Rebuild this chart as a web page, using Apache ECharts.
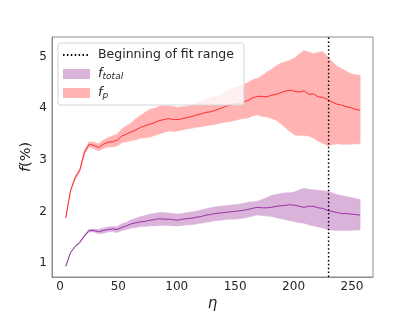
<!DOCTYPE html>
<html>
<head>
<meta charset="utf-8">
<script src="https://cdn.jsdelivr.net/npm/echarts@6/dist/echarts.min.js"></script>
<style>html,body{margin:0;padding:0;background:#fff}#c{width:415px;height:312px}</style>
</head>
<body>
<div id="c"></div>
<script>
const eta = [5,9,13,17,21,25,29,33,37,41,45,49,53,57,61,65,69,73,77,81,85,89,93,97,101,105,109,113,117,121,125,129,133,137,141,145,149,153,157,161,165,169,173,177,181,185,189,193,197,201,205,209,213,217,221,225,229,233,237,241,245,249,253,257];
const fpMid = [1.88,2.40,2.65,2.80,3.15,3.30,3.28,3.24,3.30,3.34,3.35,3.38,3.46,3.50,3.54,3.58,3.63,3.66,3.69,3.72,3.76,3.78,3.80,3.78,3.78,3.80,3.82,3.84,3.87,3.89,3.92,3.93,3.96,3.99,4.03,4.06,4.08,4.09,4.12,4.15,4.20,4.23,4.23,4.22,4.25,4.27,4.30,4.33,4.35,4.33,4.31,4.34,4.27,4.28,4.22,4.21,4.17,4.12,4.08,4.06,4.03,4.01,3.98,3.96];
const fpLo = [1.87,2.38,2.62,2.77,3.11,3.25,3.22,3.17,3.22,3.25,3.25,3.27,3.33,3.35,3.37,3.39,3.42,3.43,3.44,3.47,3.50,3.53,3.56,3.55,3.56,3.58,3.60,3.61,3.63,3.64,3.66,3.67,3.69,3.71,3.73,3.74,3.76,3.78,3.80,3.81,3.85,3.87,3.84,3.83,3.80,3.77,3.70,3.62,3.55,3.48,3.47,3.47,3.46,3.42,3.36,3.32,3.28,3.29,3.31,3.30,3.30,3.30,3.31,3.31];
const fpHi = [1.89,2.42,2.68,2.83,3.19,3.35,3.34,3.31,3.38,3.43,3.46,3.50,3.60,3.66,3.72,3.80,3.86,3.92,3.98,4.00,4.04,4.05,4.05,4.03,4.02,4.03,4.04,4.06,4.10,4.14,4.18,4.20,4.22,4.25,4.30,4.36,4.40,4.42,4.46,4.50,4.55,4.58,4.63,4.70,4.75,4.82,4.87,4.90,4.93,4.98,5.05,5.12,5.09,5.06,5.08,5.10,5.00,4.90,4.82,4.77,4.72,4.67,4.65,4.64];
const ftMid = [0.94,1.20,1.32,1.40,1.53,1.63,1.63,1.61,1.63,1.65,1.66,1.65,1.69,1.72,1.76,1.78,1.80,1.81,1.83,1.84,1.86,1.85,1.85,1.84,1.83,1.85,1.86,1.87,1.89,1.90,1.93,1.94,1.96,1.97,1.98,1.99,2.00,2.01,2.02,2.04,2.06,2.08,2.07,2.07,2.08,2.10,2.11,2.12,2.13,2.12,2.10,2.08,2.10,2.10,2.07,2.06,2.02,2.00,1.98,1.96,1.96,1.95,1.94,1.93];
const ftLo = [0.93,1.19,1.31,1.38,1.51,1.60,1.60,1.57,1.58,1.60,1.61,1.59,1.63,1.65,1.68,1.69,1.71,1.71,1.72,1.72,1.73,1.73,1.73,1.72,1.72,1.73,1.74,1.74,1.76,1.77,1.79,1.80,1.82,1.83,1.84,1.85,1.85,1.86,1.87,1.89,1.91,1.93,1.92,1.91,1.90,1.88,1.86,1.84,1.82,1.80,1.78,1.77,1.74,1.72,1.70,1.68,1.65,1.64,1.63,1.63,1.63,1.63,1.64,1.64];
const ftHi = [0.95,1.21,1.33,1.42,1.55,1.66,1.66,1.65,1.68,1.70,1.71,1.71,1.76,1.79,1.84,1.87,1.90,1.92,1.95,1.96,1.98,1.98,1.97,1.96,1.95,1.96,1.98,1.99,2.01,2.03,2.05,2.07,2.09,2.10,2.11,2.12,2.13,2.14,2.16,2.18,2.19,2.20,2.23,2.27,2.31,2.33,2.35,2.36,2.36,2.38,2.42,2.45,2.43,2.42,2.41,2.40,2.39,2.36,2.33,2.31,2.29,2.27,2.25,2.23];
const xTicks = [0,50,100,150,200,250];
const yTicks = [1,2,3,4,5];
const fitStart = 230;
const xRange = [-6.8, 268];
const yRange = [0.73, 5.38];

const pairs = (ys) => eta.map((x, i) => [x, ys[i]]);
const FONT = 'DejaVu Sans';
const purpleFill = '#d9b3d9', redFill = '#ffb3b3';

// Band polygon drawn through the axis scales (api.coord)
function bandSeries(name, lo, hi, color) {
  return {
    name: name, type: 'custom', silent: true,
    itemStyle: {color: color},
    data: [[eta[0], lo[0], hi[0]]],
    encode: {x: 0, y: [1, 2]},
    renderItem: function (params, api) {
      const pts = [];
      for (let i = 0; i < eta.length; i++) pts.push(api.coord([eta[i], hi[i]]));
      for (let i = eta.length - 1; i >= 0; i--) pts.push(api.coord([eta[i], lo[i]]));
      return {type: 'polygon', shape: {points: pts}, style: {fill: color, stroke: color, lineWidth: 0.5}};
    },
    z: 1
  };
}

const chart = echarts.init(document.getElementById('c'), null, {renderer: 'canvas'});
const noEmph = {disabled: true};
chart.setOption({
  animation: false,
  grid: {left: 52, right: 42, top: 37, bottom: 35, show: true, borderColor: '#8c8c8c', borderWidth: 1,
    backgroundColor: 'transparent', containLabel: false, outerBoundsMode: 'none'},
  legend: {
    orient: 'vertical', left: 58, top: 43,
    padding: [5, 10, 5, 4], itemGap: 5,
    itemWidth: 27, itemHeight: 10,
    backgroundColor: 'rgba(255,255,255,0.8)',
    borderColor: '#d6d6d6', borderWidth: 1, borderRadius: 3,
    textStyle: {fontFamily: FONT, fontSize: 12.5, color: '#262626', lineHeight: 14, padding: [0, 0, 0, 3],
      rich: {
        i: {fontFamily: FONT, fontStyle: 'italic', fontSize: 13, color: '#262626', lineHeight: 14},
        s: {fontFamily: FONT, fontStyle: 'italic', fontSize: 9, color: '#262626', lineHeight: 9, verticalAlign: 'bottom'}
      }},
    formatter: function (name) {
      if (name === 'f_total') return '{i|f}{s|total}';
      if (name === 'f_p') return '{i|f}{s|p}';
      return name;
    },
    data: [
      {name: 'Beginning of fit range', itemStyle: {opacity: 0}},
      {name: 'f_total', icon: 'rect', itemStyle: {color: purpleFill}},
      {name: 'f_p', icon: 'rect', itemStyle: {color: redFill}}
    ],
    selectedMode: false
  },
  xAxis: {
    type: 'value', min: xRange[0], max: xRange[1],
    name: 'η', nameLocation: 'middle', nameGap: 20, nameMoveOverlap: false,
    nameTextStyle: {fontFamily: FONT, fontStyle: 'italic', fontSize: 15, color: '#262626'},
    axisLine: {show: true, onZero: false, lineStyle: {color: '#8c8c8c'}},
    axisTick: {show: false},
    splitLine: {show: false},
    axisLabel: {customValues: xTicks, fontFamily: FONT, fontSize: 12, color: '#262626', margin: 4}
  },
  yAxis: {
    type: 'value', min: yRange[0], max: yRange[1],
    name: '{i|f}(%)', nameLocation: 'middle', nameGap: 18, nameRotate: 90, nameMoveOverlap: false,
    nameTextStyle: {fontFamily: FONT, fontSize: 14.5, color: '#262626',
      rich: {i: {fontFamily: FONT, fontStyle: 'italic', fontSize: 14.5, color: '#262626'}}},
    axisLine: {show: true, onZero: false, lineStyle: {color: '#8c8c8c'}},
    axisTick: {show: false},
    splitLine: {show: false},
    axisLabel: {customValues: yTicks, fontFamily: FONT, fontSize: 12, color: '#262626', margin: 5}
  },
  series: [
    bandSeries('f_total', ftLo, ftHi, purpleFill),
    bandSeries('f_p', fpLo, fpHi, redFill),
    {name: 'ft_mid', type: 'line', data: pairs(ftMid), symbol: 'none', lineStyle: {color: '#9a2fa8', width: 1}, silent: true, emphasis: noEmph, z: 3},
    {name: 'fp_mid', type: 'line', data: pairs(fpMid), symbol: 'none', lineStyle: {color: '#ff2a2a', width: 1}, silent: true, emphasis: noEmph, z: 3},
    {name: 'Beginning of fit range', type: 'line', data: [[fitStart, yRange[0]], [fitStart, yRange[1]]], symbol: 'none', showSymbol: false,
      itemStyle: {color: '#000'}, lineStyle: {color: '#000', width: 1.5, type: [1.5, 2.4]}, silent: true, emphasis: noEmph, z: 5}
  ]
});
</script>
</body>
</html>
